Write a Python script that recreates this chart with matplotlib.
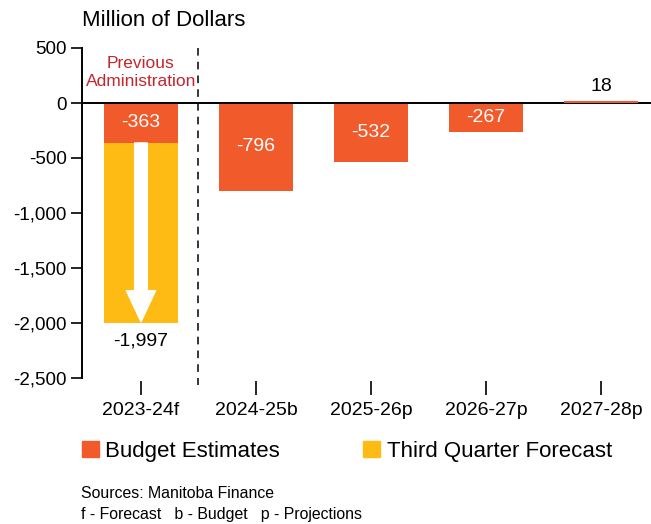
import matplotlib.pyplot as plt
from matplotlib.patches import Patch

plt.rcParams['font.family'] = ['Liberation Sans', 'DejaVu Sans']

years = ["2023-24f", "2024-25b", "2025-26p", "2026-27p", "2027-28p"]
budget = [-363, -796, -532, -267, 18]
q3_forecast = -1997

orange = "#F15A2B"
yellow = "#FDBB13"

fig = plt.figure(figsize=(6.51, 5.24), dpi=100)
ax = fig.add_axes([82 / 651, 1 - 378 / 524, 1 - 82 / 651, 330 / 524])

x = list(range(len(years)))
w = 0.64

# third quarter forecast for the first year, stacked below the budget bar
ax.bar(0, q3_forecast - budget[0], bottom=budget[0], width=w, color=yellow, zorder=2)
ax.bar(x[:-1], budget[:-1], width=w, color=orange, zorder=3)
# positive bar drawn over the zero line so it shows
ax.bar(x[-1], budget[-1], width=w, color=orange, zorder=5)

# white arrow down the yellow bar
ax.annotate("", xy=(0, q3_forecast + 8), xytext=(0, budget[0]),
            arrowprops=dict(arrowstyle="simple,head_length=1.6,head_width=1.5,tail_width=0.65",
                            color="white", mutation_scale=14, shrinkA=0, shrinkB=0),
            zorder=4)

# value labels
for xi, v in zip(x, budget):
    if v < 0:
        ax.text(xi, v / 2, f"{v:,}", ha="center", va="center", color="white", fontsize=14, zorder=6)
    else:
        ax.text(xi, v + 55, f"{v:,}", ha="center", va="bottom", color="black", fontsize=14, zorder=6)
ax.text(0, q3_forecast - 90, f"{q3_forecast:,}", ha="center", va="top", fontsize=14)

ax.text(0, 277, "Previous\nAdministration", ha="center", va="center", color="#C1272D",
        fontsize=12.5, linespacing=1.3)

ax.axhline(0, color="black", lw=1.4, zorder=4)
ax.plot([0.5, 0.5], [500, -2560], color="black", lw=1.1, ls=(0, (5, 4)), clip_on=False)

ax.set_xlim(-0.513, 4.435)
ax.set_ylim(-2500, 500)
ax.set_yticks(range(-2500, 501, 500))
ax.set_yticklabels([f"{t:,}" for t in range(-2500, 501, 500)])
ax.set_xticks(x)
ax.set_xticklabels(years)

for s in ["top", "right", "bottom"]:
    ax.spines[s].set_visible(False)
ax.spines["bottom"].set_position(("outward", 2))
ax.spines["left"].set_linewidth(1.4)
ax.tick_params(axis="y", length=8, width=1.2, labelsize=13.5, pad=3)
ax.tick_params(axis="x", length=10, width=1.2, labelsize=14, pad=5)

fig.text(82 / 651, 1 - 20 / 524, "Million of Dollars", fontsize=16, va="center", ha="left")

handles = [Patch(color=orange, label="Budget Estimates"),
           Patch(color=yellow, label="Third Quarter Forecast")]
fig.legend(handles=handles, loc="center left", bbox_to_anchor=(73 / 651, 1 - 451 / 524),
           ncol=2, frameon=False, fontsize=16, handlelength=0.75, handleheight=0.75,
           handletextpad=0.3, columnspacing=3.75, borderaxespad=0)

fig.text(81 / 651, 1 - 494 / 524, "Sources: Manitoba Finance", fontsize=11.4, va="center")
fig.text(81 / 651, 1 - 515 / 524, "f - Forecast   b - Budget   p - Projections", fontsize=11.4, va="center")

fig.savefig("out.png", dpi=100)
